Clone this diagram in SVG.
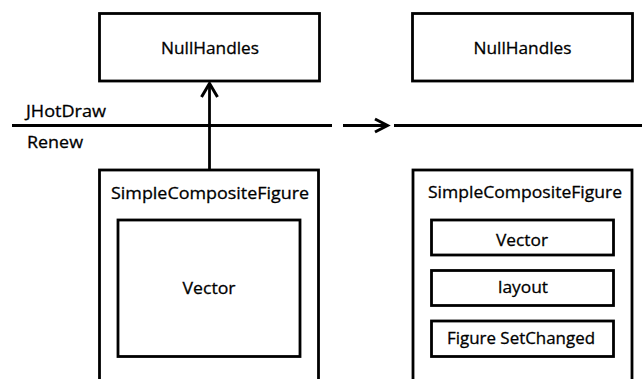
<svg xmlns="http://www.w3.org/2000/svg" width="642" height="379" viewBox="0 0 642 379">
  <style>
    .box { fill: #ffffff; stroke: #000000; stroke-width: 2.8; }
    .line { fill: none; stroke: #000000; stroke-width: 2.8; }
    .head { fill: none; stroke: #000000; stroke-width: 3; stroke-linecap: butt; stroke-linejoin: miter; }
    text { font-family: "Open Sans", "Liberation Sans", sans-serif; font-size: 17px; fill: #000000; stroke: #000000; stroke-width: 0.3; }
    .c { text-anchor: middle; }
  </style>
  <rect width="642" height="379" fill="#ffffff"/>

  <!-- layer boundary and labels -->
  <g id="layers">
    <line class="line" x1="12" y1="125.5" x2="332" y2="125.5"/>
    <line class="line" x1="394" y1="125.5" x2="642" y2="125.5"/>
    <text x="26" y="117" textLength="80" lengthAdjust="spacingAndGlyphs">JHotDraw</text>
    <text x="27" y="148" textLength="56" lengthAdjust="spacingAndGlyphs">Renew</text>
  </g>

  <!-- left: original structure -->
  <g id="nullhandles-left">
    <rect class="box" x="99.5" y="13.5" width="220" height="67.5"/>
    <text class="c" x="210" y="54" textLength="98" lengthAdjust="spacingAndGlyphs">NullHandles</text>
  </g>
  <g id="composite-left">
    <rect class="box" x="99.5" y="170" width="219" height="230"/>
    <text class="c" x="210" y="199" textLength="198" lengthAdjust="spacingAndGlyphs">SimpleCompositeFigure</text>
  </g>
  <g id="vector-left">
    <rect class="box" x="118" y="220" width="182" height="136.5"/>
    <text class="c" x="209" y="294" textLength="53" lengthAdjust="spacingAndGlyphs">Vector</text>
  </g>

  <!-- right: refactored structure -->
  <g id="nullhandles-right">
    <rect class="box" x="412.5" y="13.5" width="220" height="67.5"/>
    <text class="c" x="522.5" y="54" textLength="98" lengthAdjust="spacingAndGlyphs">NullHandles</text>
  </g>
  <g id="composite-right">
    <rect class="box" x="413" y="170" width="219" height="230"/>
    <text class="c" x="525" y="198" textLength="194" lengthAdjust="spacingAndGlyphs">SimpleCompositeFigure</text>
  </g>
  <g id="vector-right">
    <rect class="box" x="431.5" y="220" width="182" height="35"/>
    <text class="c" x="522" y="246" textLength="52" lengthAdjust="spacingAndGlyphs">Vector</text>
  </g>
  <g id="layout-right">
    <rect class="box" x="431.5" y="270.5" width="182" height="35"/>
    <text class="c" x="523" y="293" textLength="50" lengthAdjust="spacingAndGlyphs">layout</text>
  </g>
  <g id="setchanged-right">
    <rect class="box" x="431.5" y="321" width="182" height="35.5"/>
    <text class="c" x="521" y="344" textLength="148" lengthAdjust="spacingAndGlyphs">Figure SetChanged</text>
  </g>

  <!-- connectors -->
  <g id="connectors">
    <line class="line" x1="209.5" y1="170" x2="209.5" y2="85"/>
    <polyline class="head" points="201.5,97 209.5,83.5 217.5,97"/>
    <line class="line" x1="343" y1="125.5" x2="386" y2="125.5"/>
    <polyline class="head" points="375,119 387.5,125.5 375,132"/>
  </g>
</svg>
